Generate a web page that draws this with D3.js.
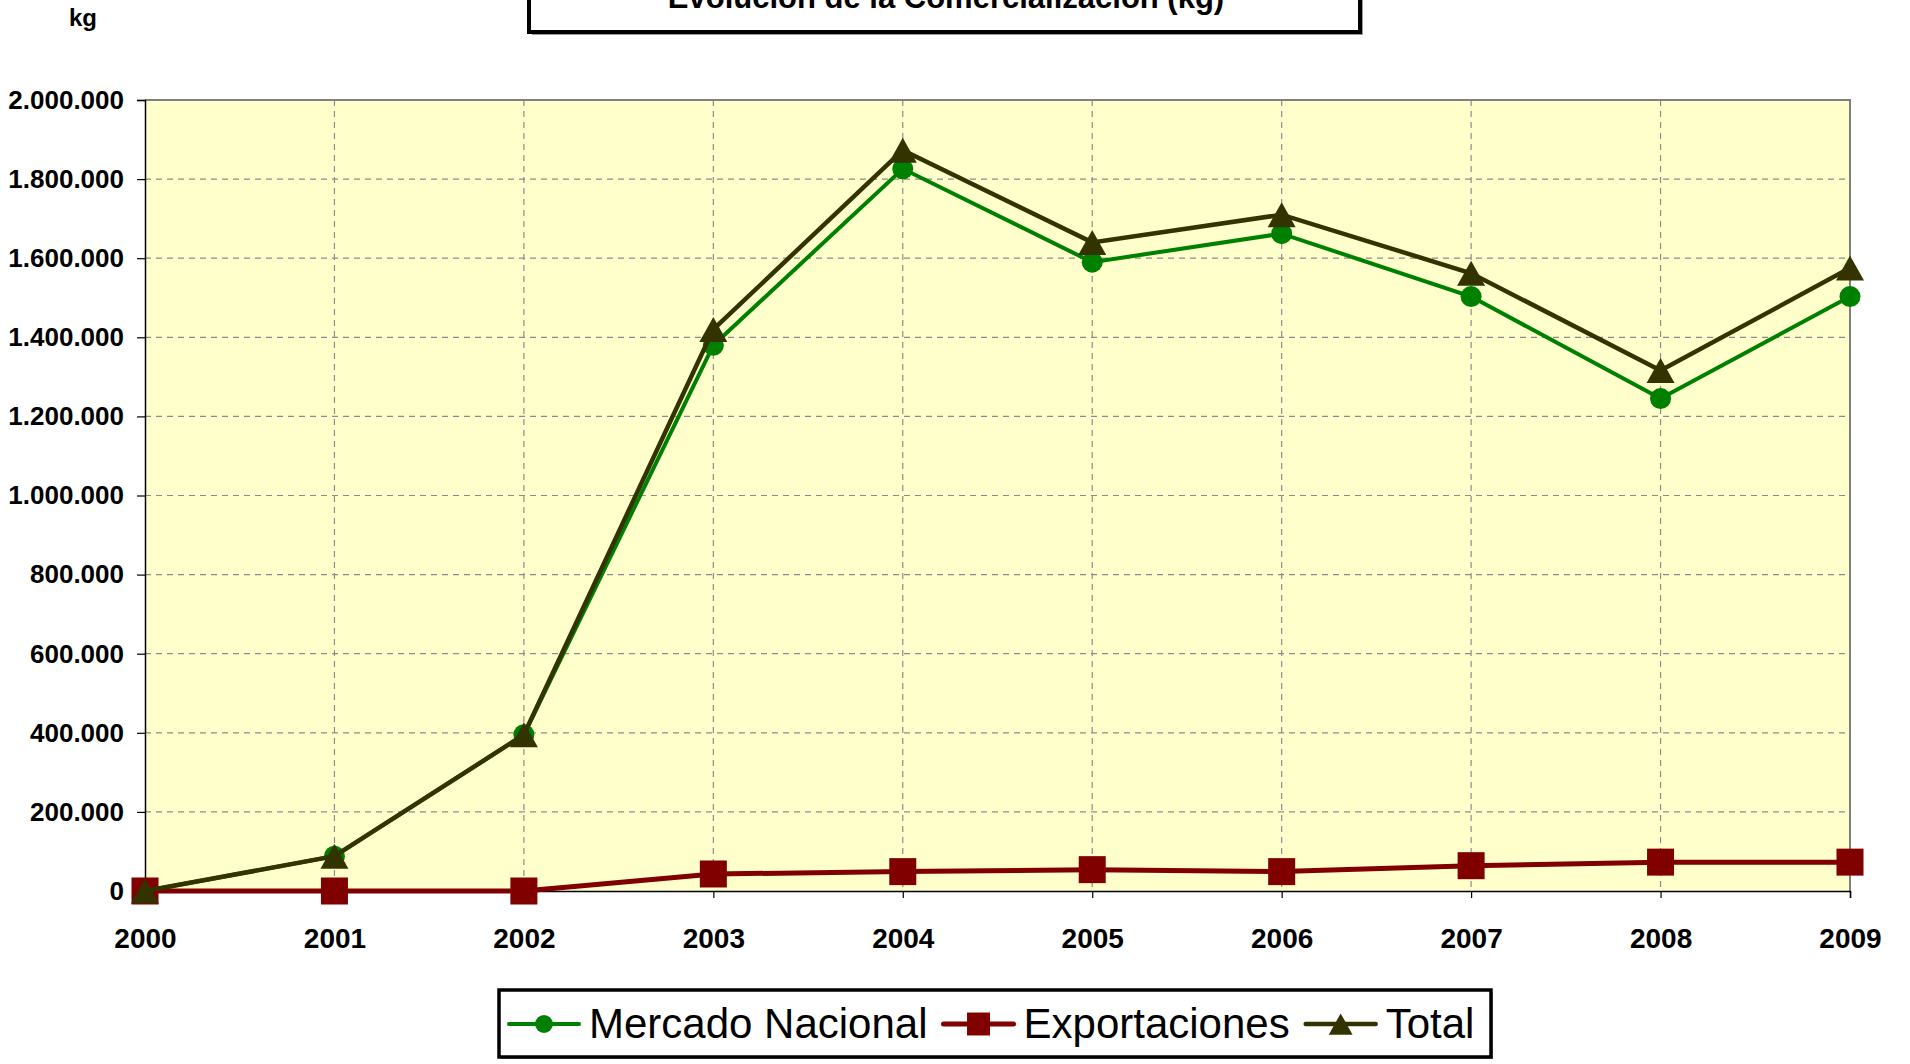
<!DOCTYPE html>
<html>
<head>
<meta charset="utf-8">
<script src="https://cdn.jsdelivr.net/npm/d3@7"></script>
<style>
    html, body { margin: 0; padding: 0; background: #ffffff; }
    svg { display: block; }
</style>
</head>
<body>
<svg id="chart"></svg>
<script>
// Chart data (kg)
const years = ["2000", "2001", "2002", "2003", "2004", "2005", "2006", "2007", "2008", "2009"];
const mercadoNacional = [0, 88000, 395000, 1380000, 1826000, 1590000, 1662000, 1503000, 1245000, 1503000];
const exportaciones = [0, 0, 0, 43000, 49000, 54000, 49000, 64000, 73000, 73000];
const totalKg = [0, 88000, 395000, 1420000, 1873000, 1640000, 1710000, 1562000, 1316000, 1575000];
const yTicks = [0, 200000, 400000, 600000, 800000, 1000000, 1200000, 1400000, 1600000, 1800000, 2000000];
const seriesNames = ["Mercado Nacional", "Exportaciones", "Total"];

const titleText = "Evolución de la Comercialización (kg)";
const unitText = "kg";

const W = 1910, H = 1064;
const plot = { left: 145, right: 1850, top: 100, bottom: 891 };

const series = [
    { name: seriesNames[0], values: mercadoNacional, color: "#008000", width: 4, marker: "circle" },
    { name: seriesNames[1], values: exportaciones, color: "#800000", width: 5, marker: "square" },
    { name: seriesNames[2], values: totalKg, color: "#333300", width: 4.5, marker: "triangle" }
];

const svg = d3.select("#chart")
    .attr("width", W)
    .attr("height", H)
    .attr("font-family", "'Liberation Sans', Arial, sans-serif");

const x = d3.scalePoint().domain(years).range([plot.left, plot.right]);
const y = d3.scaleLinear().domain([0, 2000000]).range([plot.bottom, plot.top]);

// Spanish style thousands separator
const esLocale = d3.formatLocale({ decimal: ",", thousands: ".", grouping: [3], currency: ["", ""] });
const fmt = esLocale.format(",");

// Plot area background
svg.append("rect")
    .attr("x", plot.left)
    .attr("y", plot.top)
    .attr("width", plot.right - plot.left)
    .attr("height", plot.bottom - plot.top)
    .attr("fill", "#ffffcc");

// Horizontal dashed gridlines
svg.append("g")
    .selectAll("line")
    .data(yTicks.filter(d => d > 0 && d < 2000000))
    .join("line")
    .attr("x1", plot.left)
    .attr("x2", plot.right)
    .attr("y1", d => y(d))
    .attr("y2", d => y(d))
    .attr("stroke", "#8c8c8c")
    .attr("stroke-width", 1.2)
    .attr("stroke-dasharray", "6,5");

// Vertical dashed gridlines
svg.append("g")
    .selectAll("line")
    .data(years.slice(1, -1))
    .join("line")
    .attr("x1", d => x(d))
    .attr("x2", d => x(d))
    .attr("y1", plot.top)
    .attr("y2", plot.bottom)
    .attr("stroke", "#8c8c8c")
    .attr("stroke-width", 1.2)
    .attr("stroke-dasharray", "6,5");

// Top and right border of plot area
svg.append("path")
    .attr("d", `M${plot.left},${plot.top}H${plot.right}V${plot.bottom}`)
    .attr("fill", "none")
    .attr("stroke", "#808080")
    .attr("stroke-width", 2);

// Y axis
const yAxis = svg.append("g")
    .attr("transform", `translate(${plot.left},0)`)
    .call(d3.axisLeft(y).tickValues(yTicks).tickFormat(fmt).tickSize(8).tickPadding(13));
yAxis.select(".domain").attr("stroke", "#000").attr("stroke-width", 1.5);
yAxis.selectAll(".tick line").attr("stroke", "#000").attr("stroke-width", 1.2);
yAxis.selectAll(".tick text")
    .attr("font-size", 26)
    .attr("font-weight", "bold")
    .attr("font-family", "'Liberation Sans', Arial, sans-serif")
    .attr("fill", "#000");

// X axis
const xAxis = svg.append("g")
    .attr("transform", `translate(0,${plot.bottom})`)
    .call(d3.axisBottom(x).tickSize(7).tickPadding(30));
xAxis.select(".domain").attr("stroke", "#000").attr("stroke-width", 1.5);
xAxis.selectAll(".tick line").attr("stroke", "#000").attr("stroke-width", 1.2);
xAxis.selectAll(".tick text")
    .attr("font-size", 28)
    .attr("font-weight", "bold")
    .attr("font-family", "'Liberation Sans', Arial, sans-serif")
    .attr("fill", "#000");

// Marker shapes
function drawMarker(g, type, color, cx, cy, scale = 1) {
    if (type === "circle") {
        g.append("circle")
            .attr("cx", cx).attr("cy", cy)
            .attr("r", 10.5 * scale)
            .attr("fill", color);
    } else if (type === "square") {
        const s = 27 * scale;
        g.append("rect")
            .attr("x", cx - s / 2).attr("y", cy - s / 2)
            .attr("width", s).attr("height", s)
            .attr("fill", color);
    } else {
        const w = 28 * scale, h = 25 * scale;
        g.append("path")
            .attr("d", `M${cx},${cy - h / 2}L${cx + w / 2},${cy + h / 2}L${cx - w / 2},${cy + h / 2}Z`)
            .attr("fill", color);
    }
}

const line = d3.line()
    .x((d, i) => x(years[i]))
    .y(d => y(d));

// Series lines and markers, drawn in order
series.forEach(s => {
    const g = svg.append("g");
    g.append("path")
        .datum(s.values)
        .attr("d", line)
        .attr("fill", "none")
        .attr("stroke", s.color)
        .attr("stroke-width", s.width)
        .attr("stroke-linejoin", "miter");
    s.values.forEach((v, i) => drawMarker(g, s.marker, s.color, x(years[i]), y(v)));
});

// Unit label
svg.append("text")
    .attr("x", 83)
    .attr("y", 26)
    .attr("text-anchor", "middle")
    .attr("font-size", 24)
    .attr("font-weight", "bold")
    .text(unitText);

// Title box (cut off at the top of the picture)
svg.append("rect")
    .attr("x", 532).attr("y", -40)
    .attr("width", 831).attr("height", 75)
    .attr("fill", "#9a9a9a");
svg.append("rect")
    .attr("x", 529).attr("y", -43)
    .attr("width", 831).attr("height", 75)
    .attr("fill", "#ffffff")
    .attr("stroke", "#000")
    .attr("stroke-width", 4);
svg.append("text")
    .attr("x", 946)
    .attr("y", 8)
    .attr("text-anchor", "middle")
    .attr("font-size", 31)
    .attr("font-weight", "bold")
    .text(titleText);

// Legend
const legend = svg.append("g");
legend.append("rect")
    .attr("x", 501).attr("y", 992)
    .attr("width", 992).attr("height", 67)
    .attr("fill", "#9a9a9a");
legend.append("rect")
    .attr("x", 499).attr("y", 990)
    .attr("width", 992).attr("height", 67)
    .attr("fill", "#ffffff")
    .attr("stroke", "#000")
    .attr("stroke-width", 3.5);

let lx = 509;
const ly = 1024;
series.forEach(s => {
    legend.append("line")
        .attr("x1", lx).attr("x2", lx + 70)
        .attr("y1", ly).attr("y2", ly)
        .attr("stroke", s.color)
        .attr("stroke-width", s.width)
        .attr("stroke-linecap", "round");
    drawMarker(legend, s.marker, s.color, lx + 35, ly, 0.85);
    const t = legend.append("text")
        .attr("x", lx + 80)
        .attr("y", 1038)
        .attr("font-size", 42)
        .attr("fill", "#000")
        .text(s.name);
    lx = lx + 80 + t.node().getComputedTextLength() + 16;
});
</script>
</body>
</html>
